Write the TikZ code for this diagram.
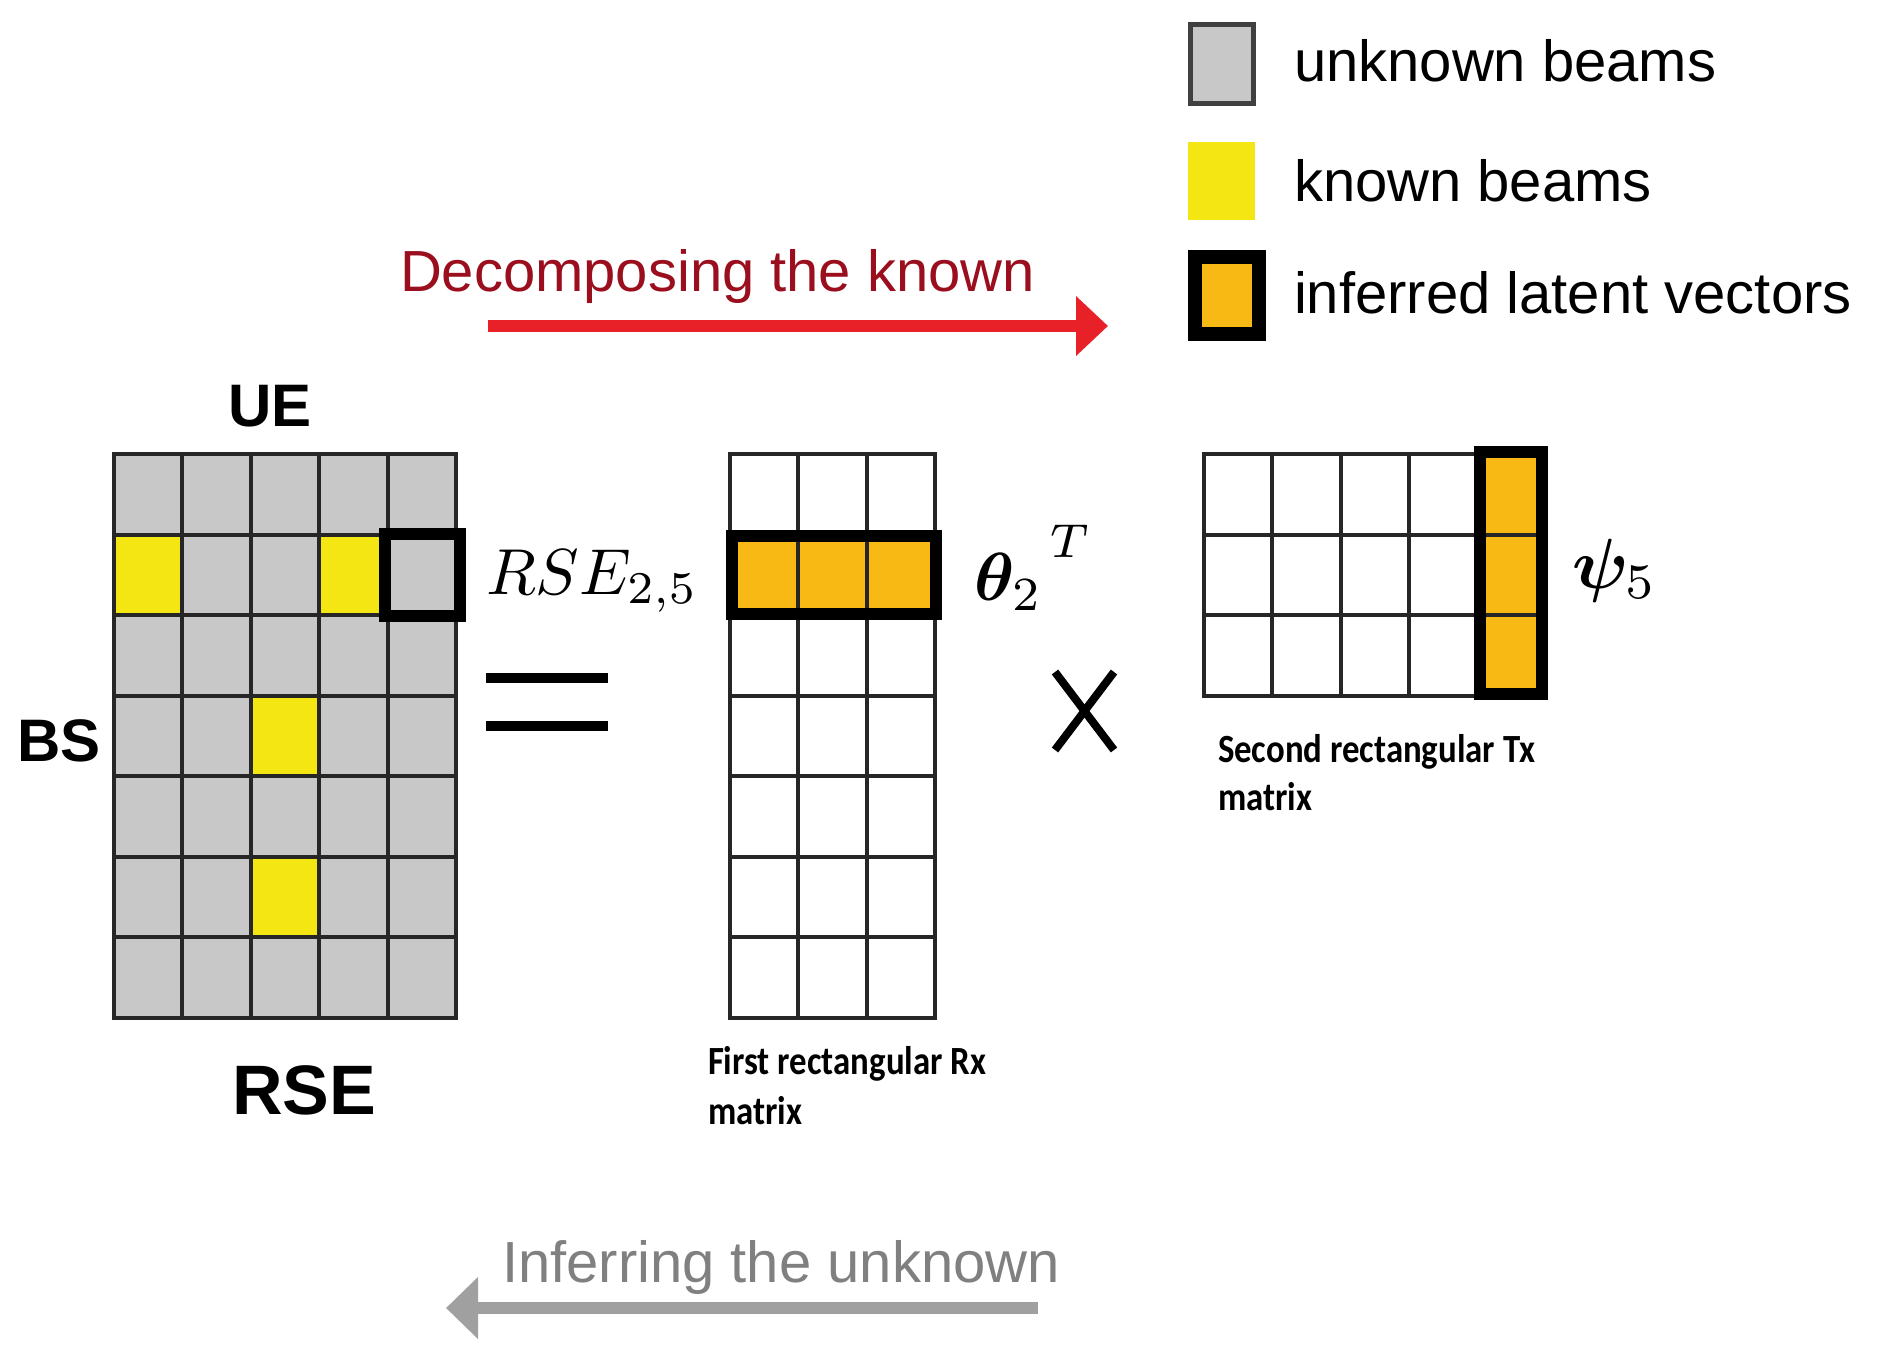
\documentclass[tikz,border=0pt]{standalone}
\usepackage{fontspec}
\usepackage{amsmath,bm,graphicx}
\setmainfont{Liberation Sans}
\newfontfamily\calib{Carlito}
\usetikzlibrary{arrows.meta}
\definecolor{cellgray}{HTML}{C8C8C8}
\definecolor{beamyellow}{HTML}{F4E612}
\definecolor{latentorange}{HTML}{F9B914}
\definecolor{decred}{HTML}{9A0E1E}
\definecolor{arrred}{HTML}{E82128}
\definecolor{infgray}{HTML}{808080}
\definecolor{arrgray}{HTML}{A0A0A0}
\definecolor{gridline}{HTML}{262626}
\definecolor{legborder}{HTML}{404040}
\newcommand{\bigmath}[2][6.8]{\scalebox{#1}{\normalsize$#2$}}
\begin{document}
\begin{tikzpicture}[x=1pt,y=-1pt,
  lbl/.style={inner sep=0pt, outer sep=0pt, anchor=base west},
  gridl/.style={draw=gridline, line width=4pt, line cap=rect},
  thickbox/.style={draw=black, line width=12pt},
  bigtxt/.style={font=\fontsize{58}{70}\selectfont},
  captxt/.style={font=\fontsize{40}{48}\selectfont\calib\bfseries},
]
\useasboundingbox[fill=white] (0,0) rectangle (1882,1364);

% ---------- legend ----------
\draw[draw=legborder, fill=cellgray, line width=5pt] (1190.5,24.5) rectangle (1253.5,103.5);
\fill[beamyellow] (1188,142) rectangle (1255,220);
\draw[draw=black, fill=latentorange, line width=14pt] (1195,257) rectangle (1259,334);
\node[lbl, bigtxt] (legunk) at (1294,82) {unknown beams};
\node[lbl, bigtxt] (legkn) at (1294,202) {known beams};
\node[lbl, bigtxt] (leglat) at (1294,314) {inferred latent vectors};

% ---------- top arrow ----------
\node[lbl, bigtxt, text=decred] (decomp) at (400,292) {Decomposing the known};
\coordinate (ra) at (488,326);
\coordinate (rb) at (1108,326);
\draw[arrred, line width=12pt, -{Triangle[length=32pt,width=58pt]}] (ra) -- (rb);

% ---------- bottom arrow ----------
\node[lbl, bigtxt, text=infgray] (infer) at (502,1282) {Inferring the unknown};
\coordinate (ga) at (1038,1308);
\coordinate (gb) at (446,1308);
\draw[arrgray, line width=12pt, -{Triangle[length=32pt,width=60pt]}] (ga) -- (gb);

% ---------- left grid (RSE) ----------
\fill[cellgray] (114,454) rectangle (456,1018);
\foreach \r/\c in {2/1,2/4,4/3,6/3}
  \fill[beamyellow] ({114+(\c-1)*68.4},{454+(\r-1)*80.57}) rectangle ++(68.4,80.57);
\foreach \i in {0,...,5} \draw[gridl] ({114+\i*68.4},454) -- ++(0,564);
\foreach \j in {0,...,7} \draw[gridl] (114,{454+\j*80.57}) -- ++(342,0);
\draw[thickbox] (385,534) rectangle (460,616);

\node[lbl, font=\fontsize{60}{72}\selectfont\bfseries] (ue) at (228,426) {UE};
\node[lbl, font=\fontsize{60}{72}\selectfont\bfseries] (bs) at (17,761) {BS};
\node[lbl, font=\fontsize{70}{84}\selectfont\bfseries] (rse) at (232,1114) {RSE};
\node[lbl] (rse25) at (486,594) {\bigmath[6.5]{RSE_{2,5}}};

% equals sign
\draw[black, line width=10pt] (486,678) -- (608,678);
\draw[black, line width=10pt] (486,726) -- (608,726);

% ---------- middle grid (theta) ----------
\fill[white] (730,454) rectangle (935.2,1018);
\fill[latentorange] (730,534.57) rectangle (935.2,615.14);
\foreach \i in {0,...,3} \draw[gridl] ({730+\i*68.4},454) -- ++(0,564);
\foreach \j in {0,...,7} \draw[gridl] (730,{454+\j*80.57}) -- ++(205.2,0);
\draw[thickbox] (732,536) rectangle (936,614);
\node[lbl] (theta) at (974,600) {\bigmath{\boldsymbol{\theta}_2{}^{\hspace{0.1em}\raisebox{2.6pt}{$\scriptstyle T$}}}};

% multiplication cross
\draw[black, line width=8pt] (1055,672) -- (1114,750);
\draw[black, line width=8pt] (1055,750) -- (1114,672);

% ---------- right grid (psi) ----------
\fill[latentorange] (1477.6,454) rectangle (1546,695.7);
\foreach \i in {0,...,5} \draw[gridl] ({1204+\i*68.4},454) -- ++(0,241.7);
\foreach \j in {0,...,3} \draw[gridl] (1204,{454+\j*80.57}) -- ++(342,0);
\draw[thickbox] (1480,452) rectangle (1542,694);
\node[lbl] (psi) at (1572,588) {\bigmath[7.1]{\boldsymbol{\psi}_5}};

% captions
\node[lbl, captxt] (txcapa) at (1218,762) {\scalebox{0.87}[1]{Second rectangular Tx}};
\node[lbl, captxt] (txcapb) at (1218,810) {\scalebox{0.87}[1]{matrix}};
\node[lbl, captxt] (rxcapa) at (708,1074) {\scalebox{0.87}[1]{First rectangular Rx}};
\node[lbl, captxt] (rxcapb) at (708,1124) {\scalebox{0.87}[1]{matrix}};
\end{tikzpicture}
\end{document}
